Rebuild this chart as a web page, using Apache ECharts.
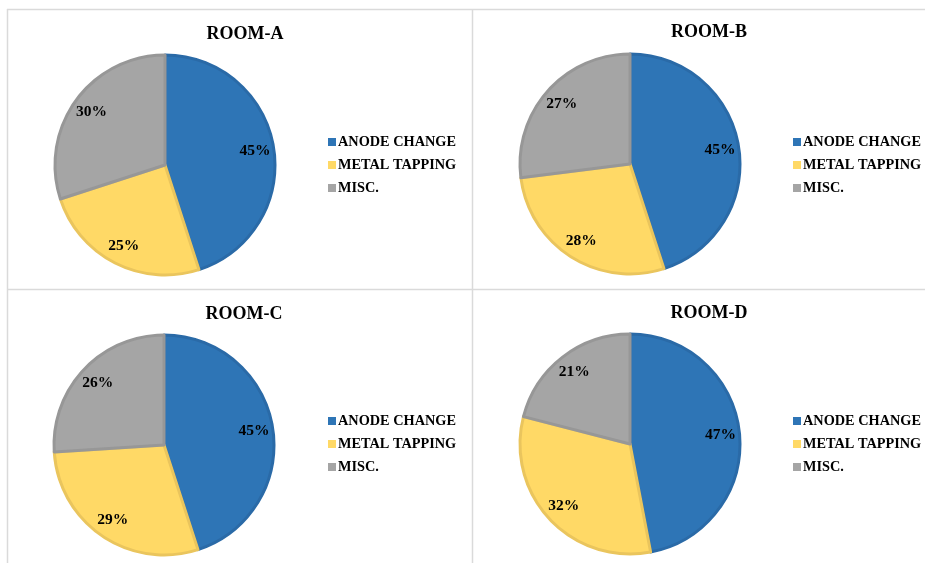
<!DOCTYPE html>
<html>
<head>
<meta charset="utf-8">
<style>
  html, body { margin: 0; padding: 0; background: #ffffff; }
  #chart { width: 925px; height: 563px; }
</style>
<script src="https://cdn.jsdelivr.net/npm/echarts@6/dist/echarts.min.js"></script>
</head>
<body>
<div id="chart"></div>
<script>
// ---- data ----
const categories = ['ANODE CHANGE', 'METAL TAPPING', 'MISC.'];
const roomNames = ['ROOM-A', 'ROOM-B', 'ROOM-C', 'ROOM-D'];
const roomA = [45, 25, 30];
const roomB = [45, 28, 27];
const roomC = [45, 29, 26];
const roomD = [47, 32, 21];
const roomValues = [roomA, roomB, roomC, roomD];

// ---- style / layout ----
const fills = ['#2E75B6', '#FFD966', '#A5A5A5'];
const borders = ['#2A6AA7', '#EAC55D', '#979797'];
const centers = [[165, 165], [630, 164], [164, 445], [630, 444]];
const R = 110;
const titlePos = [[240, 20], [704, 18], [239, 300], [704, 299]];
const legendPos = [[328, 134.5], [793, 134.5], [328, 413.5], [793, 413.5]];
const serif = '"Liberation Serif", "Times New Roman", serif';

const chart = echarts.init(document.getElementById('chart'));

const series = [];
const titles = [];
const legends = [];
roomValues.forEach((vals, i) => {
  const data = categories.map((name, k) => ({
    name: name,
    value: vals[k],
    itemStyle: { color: fills[k], borderColor: borders[k], borderWidth: 3 }
  }));
  series.push({
    type: 'pie',
    name: roomNames[i],
    center: centers[i],
    radius: [0, R],
    startAngle: 90,
    clockwise: true,
    silent: true,
    label: { show: false },
    labelLine: { show: false },
    data: data
  });
  // label ring: labels placed at ~0.8 of the radius
  series.push({
    type: 'pie',
    name: roomNames[i] + ' labels',
    center: centers[i],
    radius: [R * 0.6, R],
    startAngle: 90,
    clockwise: true,
    silent: true,
    itemStyle: { color: 'rgba(0,0,0,0)', borderWidth: 0 },
    label: {
      show: true,
      position: 'inside',
      formatter: '{c}%',
      fontFamily: serif,
      fontWeight: 'bold',
      fontSize: 15.5,
      color: '#000000'
    },
    labelLine: { show: false },
    data: categories.map((name, k) => ({ name: name, value: vals[k] }))
  });
  titles.push({
    text: roomNames[i],
    left: titlePos[i][0],
    top: titlePos[i][1],
    textAlign: 'center',
    textStyle: { fontFamily: serif, fontWeight: 'bold', fontSize: 18, color: '#000000' }
  });
  legends.push({
    data: categories,
    orient: 'vertical',
    left: legendPos[i][0],
    top: legendPos[i][1],
    icon: 'rect',
    itemWidth: 8,
    itemHeight: 8,
    itemGap: 8,
    selectedMode: false,
    padding: 0,
    itemStyle: { borderWidth: 0 },
    textStyle: { fontFamily: serif, fontWeight: 'bold', fontSize: 14.3, lineHeight: 15, color: '#000000', padding: [0, 0, 0, -3] }
  });
});

const lineStyle = { stroke: '#DADADA', lineWidth: 1.5 };
chart.setOption({
  backgroundColor: '#ffffff',
  animation: false,
  title: titles,
  legend: legends,
  series: series,
  graphic: [
    { type: 'line', shape: { x1: 7, y1: 9.5, x2: 925, y2: 9.5 }, style: lineStyle, silent: true },
    { type: 'line', shape: { x1: 7.5, y1: 9, x2: 7.5, y2: 563 }, style: lineStyle, silent: true },
    { type: 'line', shape: { x1: 472.5, y1: 9, x2: 472.5, y2: 563 }, style: lineStyle, silent: true },
    { type: 'line', shape: { x1: 7, y1: 289.5, x2: 925, y2: 289.5 }, style: lineStyle, silent: true }
  ]
});
</script>
</body>
</html>
